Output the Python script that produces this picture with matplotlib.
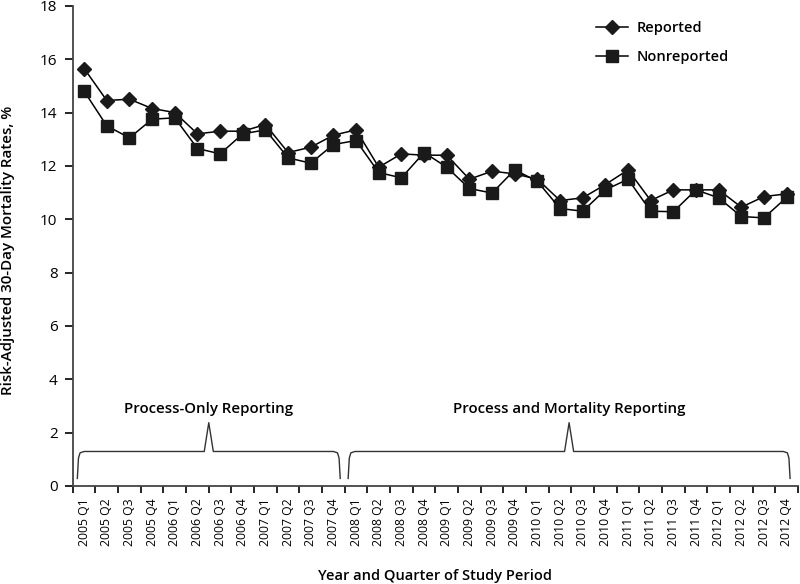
import matplotlib.pyplot as plt
import numpy as np

plt.rcParams['font.family'] = ['Open Sans', 'DejaVu Sans']

quarters = [f"{y} Q{q}" for y in range(2005, 2013) for q in range(1, 5)]

reported = [15.65, 14.45, 14.5, 14.15, 14.0, 13.2, 13.3, 13.3, 13.55, 12.5, 12.7,
            13.15, 13.35, 11.95, 12.45, 12.4, 12.4, 11.5, 11.8, 11.7, 11.5,
            10.7, 10.8, 11.3, 11.85, 10.7, 11.1, 11.1, 11.1, 10.45, 10.85, 10.95]
nonreported = [14.8, 13.5, 13.05, 13.75, 13.8, 12.65, 12.45, 13.2, 13.35, 12.3, 12.1,
               12.8, 12.95, 11.75, 11.55, 12.5, 11.95, 11.15, 10.98, 11.85, 11.42,
               10.4, 10.3, 11.1, 11.5, 10.3, 10.28, 11.1, 10.8, 10.1, 10.05, 10.82]

periods = ["Process-Only Reporting", "Process and Mortality Reporting"]
period_spans = [(-0.3, 11.3), (11.65, 31.15)]

fig = plt.figure(figsize=(8, 5.84), dpi=100)
ax = fig.add_axes([0.091, 0.168, 0.9065, 0.822])

x = np.arange(len(quarters))
ax.plot(x, reported, color='black', lw=1.1, marker='D', ms=7.2,
        mfc='#1a1a1a', mec='#1a1a1a', label='Reported')
ax.plot(x, nonreported, color='black', lw=1.1, marker='s', ms=8,
        mfc='#1a1a1a', mec='#1a1a1a', label='Nonreported')


def brace(x0, x1, y0=0.28, y1=1.29, ypeak=2.37, hw=0.2):
    xm = (x0 + x1) / 2
    xs = [x0, x0 + 0.05, x0 + 0.12, x0 + 0.3, xm - hw, xm, xm + hw,
          x1 - 0.3, x1 - 0.12, x1 - 0.05, x1]
    ys = [y0, y1 - 0.25, y1 - 0.05, y1, y1, ypeak, y1,
          y1, y1 - 0.05, y1 - 0.25, y0]
    ax.plot(xs, ys, color='#333333', lw=1.0)
    return xm


for name, (a, b) in zip(periods, period_spans):
    xm = brace(a, b)
    ax.text(xm, 2.9, name, ha='center', va='center', fontsize=10.8,
            fontweight='semibold')

ax.set_xlim(-0.5, len(quarters) - 0.5)
ax.set_ylim(0, 18)
ax.set_yticks(np.arange(0, 19, 2))
ax.tick_params(axis='y', labelsize=11, length=6, width=1.2, pad=5)
ax.set_xticks(x)
ax.set_xticklabels(quarters, rotation=90, fontsize=8.8)
ax.set_xticks(np.arange(-0.5, len(quarters), 1), minor=True)
ax.tick_params(axis='x', which='major', length=0, pad=9)
ax.tick_params(axis='x', which='minor', length=5, width=1.2)

for s in ['top', 'right']:
    ax.spines[s].set_visible(False)
for s in ['left', 'bottom']:
    ax.spines[s].set_linewidth(1.3)
    ax.spines[s].set_color('#444444')

ax.set_xlabel('Year and Quarter of Study Period', fontsize=10.5,
              fontweight='semibold', va='center')
ax.xaxis.set_label_coords(0.5, -0.1875)
ax.set_ylabel('Risk-Adjusted 30-Day Mortality Rates, %', fontsize=10.9,
              fontweight='semibold', va='center')
ax.yaxis.set_label_coords(-0.089, 0.49)

ax.legend(loc='upper right', bbox_to_anchor=(0.923, 0.995), frameon=False,
          prop={'weight': 'semibold', 'size': 10.5},
          handlelength=2.2, handletextpad=0.6, labelspacing=1.0)

fig.savefig('out.png', dpi=100)
